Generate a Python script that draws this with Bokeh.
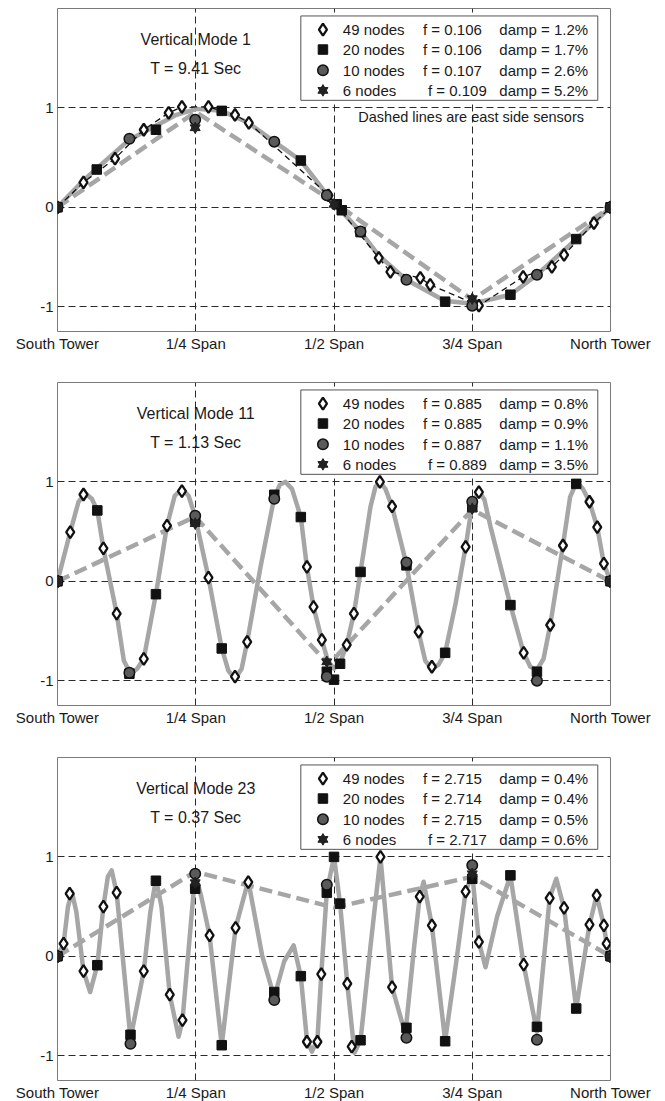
from bokeh.plotting import figure
from bokeh.layouts import column
from bokeh.models import Range1d, FixedTicker, BoxAnnotation
from bokeh.core.properties import value
from bokeh.embed import file_html
from bokeh.resources import INLINE

# ---------------- axis ticks ----------------
xtick_pos = [0, 0.25, 0.5, 0.75, 1]
xtick_labels = ["South Tower", "1/4 Span", "1/2 Span", "3/4 Span", "North Tower"]
ytick_pos = [-1, 0, 1]
ytick_labels = ["-1", "0", "1"]
node_labels = ["49 nodes", "20 nodes", "10 nodes", "6 nodes"]

# ---------------- Mode 1 ----------------
m1_title = ["Vertical Mode 1", "T = 9.41 Sec"]
m1_freq = ["f = 0.106", "f = 0.106", "f = 0.107", "f = 0.109"]
m1_damp = ["damp = 1.2%", "damp = 1.7%", "damp = 2.6%", "damp = 5.2%"]
m1_curve_x = [0, 0.047, 0.071, 0.13, 0.178, 0.215, 0.252, 0.297, 0.345, 0.392, 0.44, 0.487, 0.5,
              0.548, 0.58, 0.631, 0.70, 0.75, 0.819, 0.867, 0.938, 1.0]
m1_curve_y = [0, 0.27, 0.39, 0.68, 0.82, 0.93, 0.99, 0.97, 0.85, 0.66, 0.47, 0.13, 0.04,
              -0.245, -0.48, -0.73, -0.94, -0.97, -0.88, -0.68, -0.32, 0]
m1_east_x = [0, 0.25, 0.5, 0.75, 1.0]
m1_east_y = [0, 0.96, 0.05, -0.93, 0]
m1_n49_x = [0, 0.047, 0.104, 0.156, 0.201, 0.225, 0.273, 0.321, 0.346, 0.49, 0.581, 0.602,
            0.656, 0.674, 0.762, 0.842, 0.894, 0.916, 0.97, 1.0]
m1_n49_y = [0, 0.25, 0.49, 0.78, 0.95, 1.01, 1.01, 0.93, 0.85, 0.12, -0.51, -0.65,
            -0.71, -0.78, -0.99, -0.70, -0.60, -0.48, -0.16, 0]
m1_n20_x = [0, 0.071, 0.178, 0.297, 0.44, 0.505, 0.514, 0.548, 0.701, 0.819, 0.938, 1.0]
m1_n20_y = [0, 0.38, 0.78, 0.97, 0.47, 0.03, -0.03, -0.25, -0.95, -0.88, -0.32, 0]
m1_n10_x = [0, 0.13, 0.249, 0.392, 0.487, 0.548, 0.631, 0.75, 0.867, 1.0]
m1_n10_y = [0, 0.69, 0.88, 0.66, 0.12, -0.245, -0.73, -0.99, -0.68, 0]
m1_n6_x = [0, 0.249, 0.5, 0.75, 1.0]
m1_n6_y = [0, 0.80, 0.03, -0.92, 0]

# ---------------- Mode 11 ----------------
m2_title = ["Vertical Mode 11", "T = 1.13 Sec"]
m2_freq = ["f = 0.885", "f = 0.885", "f = 0.887", "f = 0.889"]
m2_damp = ["damp = 0.8%", "damp = 0.9%", "damp = 1.1%", "damp = 3.5%"]
m2_curve_x = [0, 0.023, 0.038, 0.05, 0.062, 0.072, 0.083, 0.107, 0.12, 0.132, 0.144, 0.156,
              0.178, 0.198, 0.212, 0.225, 0.237, 0.249, 0.273, 0.297, 0.309, 0.321, 0.333,
              0.343, 0.367, 0.392, 0.402, 0.412, 0.424, 0.44, 0.451, 0.463, 0.478, 0.489,
              0.50, 0.511, 0.523, 0.536, 0.548, 0.566, 0.575, 0.583, 0.593, 0.605, 0.631,
              0.653, 0.665, 0.677, 0.689, 0.701, 0.72, 0.738, 0.75, 0.762, 0.772, 0.783,
              0.819, 0.843, 0.855, 0.867, 0.879, 0.891, 0.914, 0.927, 0.939, 0.950, 0.962,
              0.976, 0.988, 1.0]
m2_curve_y = [0, 0.495, 0.80, 0.887, 0.83, 0.713, 0.33, -0.325, -0.80, -0.93, -0.88, -0.78,
              -0.13, 0.56, 0.86, 0.93, 0.86, 0.65, 0.037, -0.676, -0.90, -0.98, -0.88,
              -0.61, 0.14, 0.847, 0.97, 1.0, 0.93, 0.646, 0.144, -0.258, -0.59, -0.80,
              -0.88, -0.82, -0.64, -0.325, 0.094, 0.75, 0.95, 1.0, 0.93, 0.753, 0.17,
              -0.51, -0.80, -0.88, -0.84, -0.72, -0.22, 0.345, 0.78, 0.91, 0.82, 0.55,
              -0.24, -0.72, -0.86, -0.89, -0.78, -0.44, 0.36, 0.85, 1.0, 0.93, 0.80,
              0.545, 0.177, 0]
m2_east_x = [0, 0.249, 0.49, 0.75, 1.0]
m2_east_y = [0, 0.65, -0.84, 0.72, 0]
m2_n49_x = [0, 0.023, 0.047, 0.083, 0.107, 0.156, 0.198, 0.225, 0.273, 0.321, 0.343, 0.451,
            0.463, 0.478, 0.523, 0.536, 0.583, 0.605, 0.653, 0.677, 0.738, 0.762, 0.843,
            0.891, 0.914, 0.962, 0.976, 0.988, 1.0]
m2_n49_y = [0, 0.495, 0.873, 0.33, -0.325, -0.78, 0.56, 0.907, 0.037, -0.96, -0.61, 0.144,
            -0.258, -0.59, -0.64, -0.325, 1.0, 0.753, -0.51, -0.86, 0.345, 0.897, -0.72,
            -0.44, 0.36, 0.80, 0.545, 0.177, 0]
m2_n20_x = [0, 0.072, 0.13, 0.178, 0.249, 0.297, 0.392, 0.44, 0.487, 0.5, 0.511, 0.548,
            0.631, 0.701, 0.75, 0.819, 0.867, 0.938, 1.0]
m2_n20_y = [0, 0.713, -0.93, -0.13, 0.62, -0.676, 0.87, 0.646, -0.91, -0.99, -0.83, 0.094,
            0.16, -0.72, 0.745, -0.24, -0.91, 0.98, 0]
m2_n10_x = [0, 0.13, 0.249, 0.392, 0.487, 0.631, 0.75, 0.867, 1.0]
m2_n10_y = [0, -0.92, 0.66, 0.83, -0.96, 0.19, 0.80, -1.0, 0]
m2_n6_x = [0, 0.249, 0.487, 0.75, 1.0]
m2_n6_y = [0, 0.58, -0.81, 0.73, 0]

# ---------------- Mode 23 ----------------
m3_title = ["Vertical Mode 23", "T = 0.37 Sec"]
m3_freq = ["f = 2.715", "f = 2.714", "f = 2.715", "f = 2.717"]
m3_damp = ["damp = 0.4%", "damp = 0.4%", "damp = 0.5%", "damp = 0.6%"]
m3_curve_x = [0, 0.011, 0.019, 0.026, 0.034, 0.047, 0.059, 0.072, 0.083, 0.091, 0.098, 0.107,
              0.132, 0.156, 0.168, 0.178, 0.188, 0.203, 0.219, 0.226, 0.249, 0.26, 0.275,
              0.297, 0.322, 0.345, 0.37, 0.392, 0.41, 0.427, 0.44, 0.451, 0.46, 0.47, 0.477,
              0.487, 0.50, 0.511, 0.524, 0.537, 0.548, 0.566, 0.584, 0.605, 0.629, 0.645,
              0.655, 0.662, 0.677, 0.701, 0.72, 0.738, 0.75, 0.762, 0.774, 0.795, 0.819,
              0.843, 0.867, 0.89, 0.902, 0.916, 0.938, 0.962, 0.975, 0.988, 0.993, 1.0]
m3_curve_y = [0, 0.127, 0.50, 0.646, 0.45, -0.15, -0.36, -0.09, 0.50, 0.80, 0.864, 0.64,
              -0.83, -0.15, 0.45, 0.78, 0.50, -0.385, -0.81, -0.643, 0.83, 0.60, 0.21,
              -0.895, 0.285, 0.76, 0.01, -0.41, -0.05, 0.11, -0.2, -0.84, -0.96, -0.84, -0.18,
              0.65, 1.0, 0.53, -0.275, -0.97, -0.845, 0.1, 1.0, -0.31, -0.78, 0.1,
              0.60, 0.75, 0.31, -0.85, -0.1, 0.65, 0.83, 0.144, -0.11, 0.4, 0.814,
              -0.084, -0.76, 0.586, 0.78, 0.486, -0.526, 0.318, 0.613, 0.31, 0.127, 0]
m3_east_x = [0, 0.249, 0.5, 0.75, 1.0]
m3_east_y = [0, 0.85, 0.49, 0.80, 0]
m3_n49_x = [0, 0.011, 0.022, 0.047, 0.083, 0.107, 0.156, 0.203, 0.226, 0.275, 0.322, 0.345,
            0.451, 0.47, 0.477, 0.524, 0.532, 0.584, 0.605, 0.655, 0.677, 0.738, 0.762,
            0.843, 0.89, 0.916, 0.962, 0.975, 0.988, 0.993, 1.0]
m3_n49_y = [0, 0.127, 0.63, -0.15, 0.50, 0.64, -0.15, -0.385, -0.643, 0.21, 0.285, 0.747,
            -0.86, -0.86, -0.18, -0.275, -0.91, 1.0, -0.31, 0.60, 0.31, 0.65, 0.144,
            -0.084, 0.586, 0.486, 0.318, 0.613, 0.31, 0.127, 0]
m3_n20_x = [0, 0.072, 0.132, 0.178, 0.249, 0.297, 0.392, 0.44, 0.487, 0.5, 0.511, 0.548,
            0.631, 0.701, 0.75, 0.819, 0.867, 0.938, 1.0]
m3_n20_y = [0, -0.09, -0.79, 0.76, 0.68, -0.895, -0.36, -0.2, 0.64, 1.0, 0.53, -0.845,
            -0.72, -0.855, 0.78, 0.814, -0.71, -0.526, 0]
m3_n10_x = [0, 0.132, 0.249, 0.392, 0.487, 0.631, 0.75, 0.867, 1.0]
m3_n10_y = [0, -0.88, 0.83, -0.44, 0.72, -0.82, 0.915, -0.84, 0]
m3_n6_x = [0, 0.249, 0.75, 1.0]
m3_n6_y = [0, 0.74, 0.83, 0]

note_text = ["Dashed lines are east side sensors"]

# ---------------- styling ----------------
FONT = value("Liberation Sans")
TXT = "#1a1a1a"
GRAY = "#a6a6a6"
DARK = "#111111"

# legend layout (data coordinates of the frame)
LEG_BOX = dict(left=0.440, right=0.977, bottom=1.076, top=1.925)
LEG_ROWS = [1.788, 1.587, 1.378, 1.176]
LEG_MARK_X = 0.480
LEG_NODE_X = 0.516
LEG_F_X = [0.661, 0.661, 0.661, 0.670]
LEG_D_X = 0.799


def draw_markers(p, n49, n20, n10, n6, level="glyph"):
    p.scatter(n49[0], n49[1], marker="diamond", size=12, fill_color="white",
              line_color=DARK, line_width=2.3, level=level)
    p.scatter(n20[0], n20[1], marker="square", size=9.5, fill_color=DARK,
              line_color=DARK, line_width=1, level=level)
    p.scatter(n10[0], n10[1], marker="circle", size=10.5, fill_color="#5a5a5a",
              line_color=DARK, line_width=1.5, level=level)
    p.scatter(n6[0], n6[1], marker="triangle", size=10, fill_color="#222222",
              line_color="#222222", line_width=1, level=level)
    p.scatter(n6[0], n6[1], marker="inverted_triangle", size=10, fill_color="#222222",
              line_color="#222222", line_width=1, level=level)


def make_panel(title, freqs, damps, cx, cy, ex, ey, n49, n20, n10, n6,
               top, bottom, note=None, black_dash=False):
    p = figure(frame_width=553, frame_height=323,
               x_range=Range1d(0, 1), y_range=Range1d(-1.25, 2.0),
               output_backend="svg", toolbar_location=None, tools="",
               min_border_left=57, min_border_right=50, min_border_top=top,
               min_border_bottom=bottom)
    p.background_fill_color = "white"
    p.border_fill_color = "white"
    p.outline_line_color = "#7a7a7a"
    p.outline_line_width = 1

    for ax in (p.xaxis[0], p.yaxis[0]):
        ax.axis_line_color = None
        ax.major_tick_line_color = None
        ax.minor_tick_line_color = None
        ax.major_tick_out = 0
        ax.major_tick_in = 0
        ax.minor_tick_out = 0
        ax.major_label_text_font = "Liberation Sans"
        ax.major_label_text_font_size = "15px"
        ax.major_label_text_color = TXT
    p.xaxis.ticker = FixedTicker(ticks=xtick_pos)
    p.xaxis.major_label_overrides = dict(zip(xtick_pos, xtick_labels))
    p.xaxis.major_label_standoff = 3
    p.yaxis.ticker = FixedTicker(ticks=ytick_pos)
    p.yaxis.major_label_overrides = dict(zip(ytick_pos, ytick_labels))
    p.yaxis.major_label_standoff = 4

    p.xgrid.ticker = FixedTicker(ticks=xtick_pos[1:-1])
    p.ygrid.ticker = FixedTicker(ticks=ytick_pos)
    for g in (p.xgrid[0], p.ygrid[0]):
        g.grid_line_color = "#2a2a2a"
        g.grid_line_dash = "7 4"
        g.grid_line_width = 1

    # curves
    p.line(cx, cy, line_color=GRAY, line_width=4.5, line_join="round", line_cap="round")
    p.line(ex, ey, line_color=GRAY, line_width=4.5, line_dash="13 6")
    if black_dash:
        p.line(n49[0], n49[1], line_color=DARK, line_width=1.3, line_dash="6 4")
    draw_markers(p, n49, n20, n10, n6)

    # title texts
    p.text(x=[0.25, 0.25], y=[1.687, 1.395], text=title, text_font=FONT,
           text_font_size="16px", text_color=TXT, text_align="center",
           text_baseline="middle")

    # legend
    p.add_layout(BoxAnnotation(fill_color="white", fill_alpha=1.0, line_color="#555555",
                               line_width=1, line_alpha=1.0, **LEG_BOX))
    lx = [LEG_MARK_X] * 4
    draw_markers(p, ([lx[0]], [LEG_ROWS[0]]), ([lx[1]], [LEG_ROWS[1]]),
                 ([lx[2]], [LEG_ROWS[2]]), ([lx[3]], [LEG_ROWS[3]]), level="overlay")
    p.text(x=[LEG_NODE_X] * 4, y=LEG_ROWS, text=node_labels, text_font=FONT,
           text_font_size="15px", text_color=TXT, text_align="left",
           text_baseline="middle", level="overlay")
    p.text(x=LEG_F_X, y=LEG_ROWS, text=freqs, text_font=FONT,
           text_font_size="15px", text_color=TXT, text_align="left",
           text_baseline="middle", level="overlay")
    p.text(x=[LEG_D_X] * 4, y=LEG_ROWS, text=damps, text_font=FONT,
           text_font_size="15px", text_color=TXT, text_align="left",
           text_baseline="middle", level="overlay")

    if note:
        p.text(x=[0.748], y=[0.907], text=note, text_font=FONT, text_font_size="14.5px",
               text_color=TXT, text_align="center", text_baseline="middle")
    return p


p1 = make_panel(m1_title, m1_freq, m1_damp, m1_curve_x, m1_curve_y, m1_east_x, m1_east_y,
                (m1_n49_x, m1_n49_y), (m1_n20_x, m1_n20_y), (m1_n10_x, m1_n10_y),
                (m1_n6_x, m1_n6_y), top=8, bottom=50, note=note_text, black_dash=True)
p2 = make_panel(m2_title, m2_freq, m2_damp, m2_curve_x, m2_curve_y, m2_east_x, m2_east_y,
                (m2_n49_x, m2_n49_y), (m2_n20_x, m2_n20_y), (m2_n10_x, m2_n10_y),
                (m2_n6_x, m2_n6_y), top=1, bottom=51)
p3 = make_panel(m3_title, m3_freq, m3_damp, m3_curve_x, m3_curve_y, m3_east_x, m3_east_y,
                (m3_n49_x, m3_n49_y), (m3_n20_x, m3_n20_y), (m3_n10_x, m3_n10_y),
                (m3_n6_x, m3_n6_y), top=1, bottom=20)

layout = column(p1, p2, p3)
open("out.html", "w").write(file_html(layout, INLINE))
